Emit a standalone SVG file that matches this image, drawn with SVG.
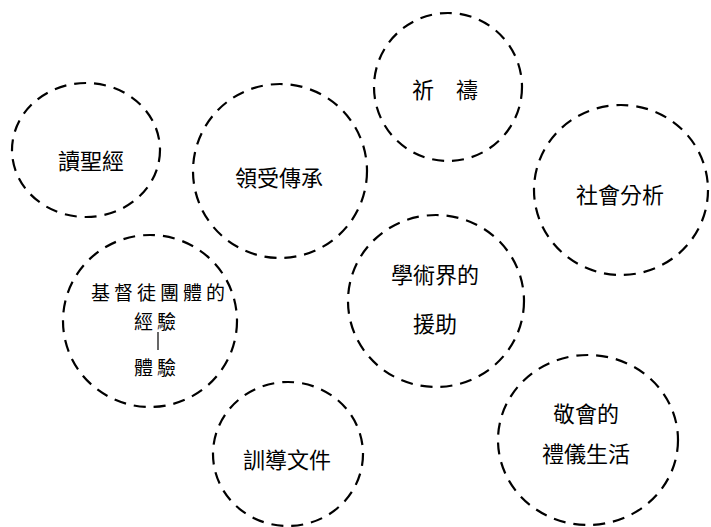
<svg xmlns="http://www.w3.org/2000/svg" width="711" height="527" viewBox="0 0 711 527">
<style>
.c{fill:none;stroke:#000;stroke-width:2.2;stroke-dasharray:12 8}
.t{font-family:"Noto Sans CJK TC","Noto Sans CJK SC",sans-serif;font-size:22px;fill:#000;text-anchor:middle;dominant-baseline:central}
.s{font-size:19px}
</style>
<rect width="711" height="527" fill="#fff"/>
<g id="n1"><ellipse class="c" cx="86" cy="150" rx="74" ry="67"/><text class="t" x="91" y="159">讀聖經</text></g>
<g id="n2"><ellipse class="c" cx="280" cy="171" rx="87" ry="87"/><text class="t" x="279" y="176">領受傳承</text></g>
<g id="n3"><ellipse class="c" cx="448" cy="87" rx="74" ry="74"/><text class="t" x="445" y="88" xml:space="preserve">祈　禱</text></g>
<g id="n4"><ellipse class="c" cx="621" cy="190" rx="87" ry="85"/><text class="t" x="620" y="193">社會分析</text></g>
<g id="n5"><ellipse class="c" cx="150" cy="321" rx="87" ry="86"/><text class="t s" x="160" y="291" letter-spacing="4">基督徒團體的</text><text class="t s" x="157" y="320" letter-spacing="4">經驗</text><line x1="158" y1="332" x2="158" y2="350" stroke="#000" stroke-width="1.2"/><text class="t s" x="157" y="366" letter-spacing="4">體驗</text></g>
<g id="n6"><ellipse class="c" cx="436" cy="301" rx="88" ry="86"/><text class="t" x="435" y="273">學術界的</text><text class="t" x="435" y="322">援助</text></g>
<g id="n7"><ellipse class="c" cx="288" cy="454" rx="75" ry="72"/><text class="t" x="287" y="458">訓導文件</text></g>
<g id="n8"><ellipse class="c" cx="588" cy="440" rx="90" ry="85"/><text class="t" x="586" y="412">敬會的</text><text class="t" x="586" y="452">禮儀生活</text></g>
<g id="connectors"></g>
</svg>
